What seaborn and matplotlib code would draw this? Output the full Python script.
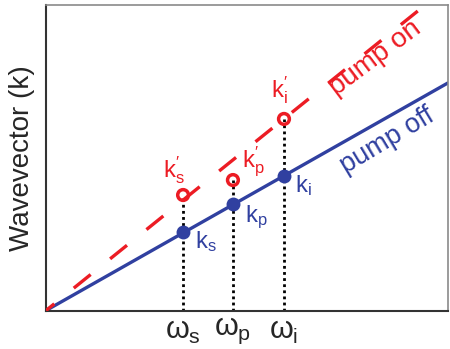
import matplotlib
matplotlib.use("Agg")
import matplotlib.pyplot as plt
import seaborn as sns
import pandas as pd

# ---- data ----
omega_names = ["s", "p", "i"]
omega = [3.41, 4.65, 5.92]
k_off = [2.57, 3.49, 4.40]
k_on = [3.78, 4.27, 6.27]
line_x = [0, 10]
off_line_y = [0, 7.45]
on_line_y = [0, 10.6]
tick_labels = [r"$\omega_\mathrm{%s}$" % n for n in omega_names]
off_labels = [r"$\mathrm{k}_\mathrm{%s}$" % n for n in omega_names]
on_labels = [r"$\mathrm{k}_\mathrm{%s}^{\prime}$" % n for n in omega_names]

sns.set_style("white")
plt.rcParams["font.family"] = ["Liberation Sans", "DejaVu Sans"]
plt.rcParams["mathtext.fontset"] = "custom"
plt.rcParams["mathtext.rm"] = "Liberation Sans"
plt.rcParams["mathtext.it"] = "Liberation Sans"
plt.rcParams["mathtext.bf"] = "Liberation Sans:bold"

RED = "#ec1c24"
BLUE = "#3040a0"

fig = plt.figure(figsize=(4.5, 3.49), dpi=100)
ax = fig.add_axes([46 / 450, (349 - 310.5) / 349, 402 / 450, 305.5 / 349])

# dotted guides
for xw, yk in zip(omega, k_on):
    ax.plot([xw, xw], [0, yk], color="black", lw=2.0, ls=(0, (1, 1.2)), zorder=1)

df_off = pd.DataFrame({"x": line_x, "y": off_line_y})
df_on = pd.DataFrame({"x": line_x, "y": on_line_y})
sns.lineplot(data=df_off, x="x", y="y", color=BLUE, lw=2.4, ax=ax, zorder=2)
sns.lineplot(data=df_on, x="x", y="y", color=RED, lw=2.4, ax=ax, zorder=3)
ax.lines[-1].set_linestyle((3.3, (6.5, 7.5)))

pts_off = pd.DataFrame({"x": omega, "y": k_off})
pts_on = pd.DataFrame({"x": omega, "y": k_on})
sns.scatterplot(data=pts_off, x="x", y="y", color=BLUE, s=100, edgecolor=BLUE,
                linewidth=0, ax=ax, zorder=4)
sns.scatterplot(data=pts_on, x="x", y="y", facecolor="none", edgecolor=RED, s=60,
                linewidth=2.5, ax=ax, zorder=4)

# point labels
off_pos = [(3.71, 2.05), (4.95, 2.90), (6.19, 3.88)]
on_pos = [(2.91, 4.37), (4.88, 4.70), (5.60, 6.99)]
for (tx, ty), lab in zip(off_pos, off_labels):
    ax.text(tx, ty, lab, color=BLUE, fontsize=17, ha="left", va="baseline")
for (tx, ty), lab in zip(on_pos, on_labels):
    ax.text(tx, ty, lab, color=RED, fontsize=17, ha="left", va="baseline")

ax.text(8.20, 8.25, "pump on", color=RED, fontsize=20, rotation=37,
        ha="center", va="center", rotation_mode="anchor")
ax.text(8.48, 5.55, "pump off", color=BLUE, fontsize=19.5, rotation=31,
        ha="center", va="center", rotation_mode="anchor")

ax.set_xlim(0, 10)
ax.set_ylim(0, 10)
ax.set_xticks(omega)
ax.set_xticklabels(tick_labels, fontsize=22)
ax.set_yticks([])
ax.tick_params(axis="x", length=0, pad=4)
ax.set_xlabel("")
ax.set_ylabel("Wavevector (k)", fontsize=20, labelpad=8)

for side in ["left", "bottom"]:
    ax.spines[side].set_color("#333333")
    ax.spines[side].set_linewidth(1.5)
for side in ["top", "right"]:
    ax.spines[side].set_color("#8a8a8a")
    ax.spines[side].set_linewidth(1.2)

fig.savefig("out.png", dpi=100)
